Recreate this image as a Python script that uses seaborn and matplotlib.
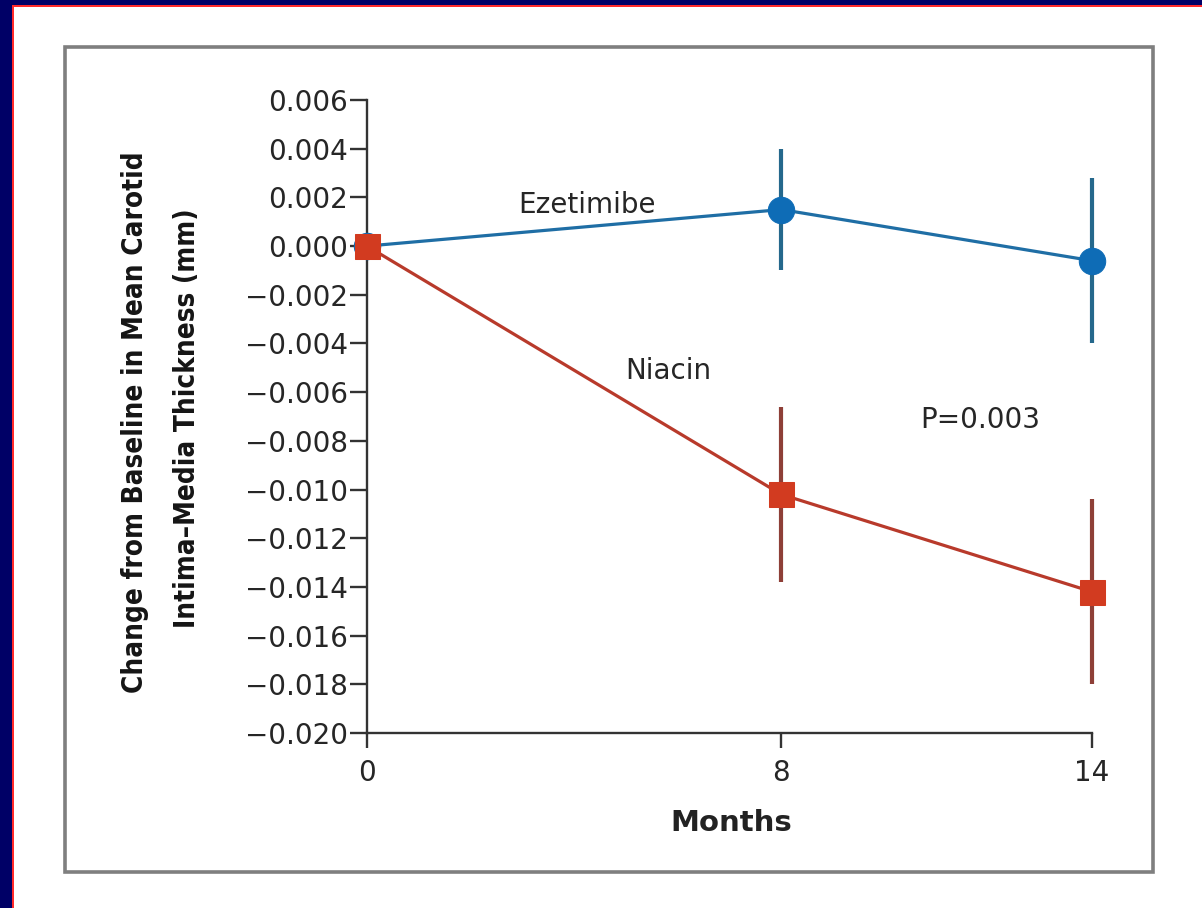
import matplotlib
matplotlib.use("Agg")
import matplotlib.pyplot as plt
import seaborn as sns
import pandas as pd
from matplotlib.patches import Rectangle

months = [0, 8, 14]
ezetimibe = [0.0, 0.0015, -0.0006]
ezetimibe_err = [0.0, 0.0025, 0.0034]
niacin = [0.0, -0.0102, -0.0142]
niacin_err = [0.0, 0.0036, 0.0038]
y_ticks = [0.006, 0.004, 0.002, 0.0, -0.002, -0.004, -0.006, -0.008, -0.010,
           -0.012, -0.014, -0.016, -0.018, -0.020]
x_ticks = [0, 8, 14]
ylabel_lines = ["Change from Baseline in Mean Carotid",
                "Intima\u2013Media Thickness (mm)"]

sns.set_theme(style="white")
plt.rcParams['font.family'] = ['DejaVu Sans']

df = pd.DataFrame({
    "Months": months * 2,
    "Change": ezetimibe + niacin,
    "Group": ["Ezetimibe"] * 3 + ["Niacin"] * 3,
})

W, H = 1202, 908
fig = plt.figure(figsize=(W / 100, H / 100), dpi=100)
fig.patch.set_facecolor("white")

# outer decorative border
fig.add_artist(Rectangle((0, 0), 12 / W, 1, transform=fig.transFigure,
                         facecolor="#000066", edgecolor="none", zorder=0))
fig.add_artist(Rectangle((0, 1 - 5 / H), 1, 5 / H, transform=fig.transFigure,
                         facecolor="#000066", edgecolor="none", zorder=0))
fig.add_artist(Rectangle((12 / W, 0), 2 / W, 1 - 5 / H, transform=fig.transFigure,
                         facecolor="#ff2a2a", edgecolor="none", zorder=0))
fig.add_artist(Rectangle((12 / W, 1 - 7 / H), 1 - 12 / W, 2 / H,
                         transform=fig.transFigure,
                         facecolor="#ff2a2a", edgecolor="none", zorder=0))
# gray frame
fig.add_artist(Rectangle((65 / W, 1 - 872 / H), (1153 - 65) / W, (872 - 47) / H,
                         transform=fig.transFigure, facecolor="none",
                         edgecolor="#7f7f7f", linewidth=2.6, zorder=1))

ax = fig.add_axes([367 / W, 1 - 733 / H, (1092 - 367) / W, (733 - 100) / H])
ax.set_facecolor("none")

blue_line = "#1f6ea5"
blue_mark = "#0e6cb6"
blue_err = "#25688c"
red_line = "#b83a2b"
red_mark = "#d23b20"
red_err = "#8e3f37"

sns.lineplot(data=df[df.Group == "Ezetimibe"], x="Months", y="Change", ax=ax,
             color=blue_line, linewidth=2.3, marker="o", markersize=19,
             markerfacecolor=blue_mark, markeredgecolor=blue_mark, zorder=3)
ax.errorbar(months[1:], ezetimibe[1:], yerr=ezetimibe_err[1:], fmt="none",
            ecolor=blue_err, elinewidth=3, capsize=0, zorder=2)

sns.lineplot(data=df[df.Group == "Niacin"], x="Months", y="Change", ax=ax,
             color=red_line, linewidth=2.3, marker="s", markersize=18,
             markerfacecolor=red_mark, markeredgecolor=red_mark, zorder=5)
ax.errorbar(months[1:], niacin[1:], yerr=niacin_err[1:], fmt="none",
            ecolor=red_err, elinewidth=3, capsize=0, zorder=4)

for ln in ax.lines:
    ln.set_clip_on(False)
for coll in ax.collections:
    coll.set_clip_on(False)

ax.set_xlim(0, 14)
ax.set_ylim(-0.020, 0.006)
ax.set_xticks(x_ticks)
ax.set_xticklabels([str(t) for t in x_ticks], fontsize=20, color="#262626")
ax.set_yticks(y_ticks)
ax.set_yticklabels([f"{t:.3f}".replace("-", "\u2212") for t in y_ticks],
                   fontsize=20, color="#262626")
for s in ["top", "right"]:
    ax.spines[s].set_visible(False)
for s in ["left", "bottom"]:
    ax.spines[s].set_color("#333333")
    ax.spines[s].set_linewidth(1.7)
ax.tick_params(axis="y", direction="out", length=12, width=1.7, color="#333333",
               left=True, pad=2)
ax.tick_params(axis="x", direction="out", length=11, width=1.7, color="#333333",
               bottom=True, pad=8)
ax.set_xlabel("Months", fontsize=21, fontweight="bold", color="#222222")
ax.xaxis.label.set_va("center")
ax.xaxis.set_label_coords(0.502, (733 - 823) / 633)
ax.set_ylabel("")
ax.grid(False)

# two-line y label
for xc, yc, txt in [(135, 422, ylabel_lines[0]), (187, 418, ylabel_lines[1])]:
    fig.text(xc / W, 1 - yc / H, txt, rotation=90, fontsize=20,
             fontweight="bold", fontstretch="condensed",
             color="#151515", ha="center", va="center")

ax.text(2.93, 0.00136, "Ezetimibe", fontsize=20, color="#262626", ha="left", va="baseline")
ax.text(4.98, -0.00546, "Niacin", fontsize=20, color="#262626", ha="left", va="baseline")
ax.text(10.68, -0.00747, "P=0.003", fontsize=20, color="#262626", ha="left", va="baseline")

fig.savefig("out.png", dpi=100)
